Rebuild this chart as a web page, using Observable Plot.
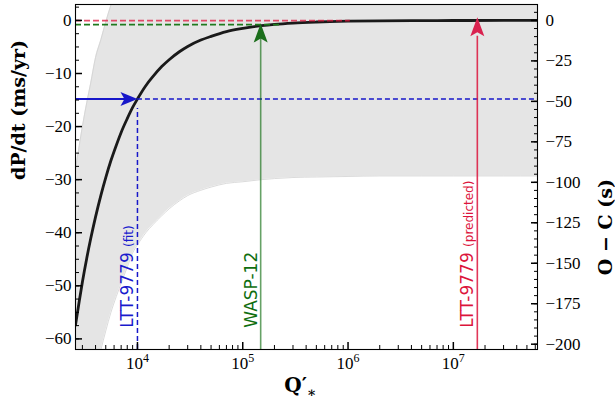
<!DOCTYPE html>
<html><head><meta charset="utf-8">
<script src="https://cdn.jsdelivr.net/npm/d3@7"></script>
<script src="https://cdn.jsdelivr.net/npm/@observablehq/plot@0.6"></script>
<style>body{margin:0;background:#fff} svg{display:block}</style>
</head><body><div id="chart"></div>
<script>
// ---- data ----
const qStar = [2580, 2800, 3000, 3300, 3600, 4000, 4500, 5000, 5600, 6300, 7000, 8000, 9000, 10000, 12000, 14000, 17000, 20000, 25000, 30000, 40000, 50000, 70000, 100000, 150000, 200000, 300000, 500000, 1e6, 2e6, 5e6, 1e7, 3e7, 6.3e7];
const dPdt = [-57.4, -52.9, -49.3, -44.8, -41.1, -37.0, -32.9, -29.6, -26.4, -23.5, -21.1, -18.5, -16.4, -14.8, -12.3, -10.6, -8.7, -7.4, -5.9, -4.9, -3.7, -3.0, -2.1, -1.5, -1.0, -0.74, -0.49, -0.30, -0.15, -0.07, -0.03, -0.015, -0.005, -0.002];
const bandHigh = [-28.1, -23.6, -20.0, -15.5, -11.8, -7.0, -3.6, -0.3, 2.9, 5.8, 8.2, 10.8, 12.9, 14.5, 17.0, 18.7, 20.6, 21.9, 23.4, 24.4, 25.6, 26.3, 27.2, 27.8, 28.3, 28.6, 28.8, 29.0, 29.2, 29.2, 29.3, 29.3, 29.3, 29.3];
const bandLow = [-86.0, -81.5, -78.0, -73.5, -69.8, -65.8, -62.0, -58.5, -55.0, -52.0, -49.5, -46.5, -43.8, -42.3, -40.0, -38.5, -36.8, -35.5, -34.0, -33.0, -32.0, -31.4, -30.7, -30.4, -30.0, -29.8, -29.6, -29.5, -29.4, -29.3, -29.3, -29.3, -29.3, -29.3];

const xDomain = [2580, 6.3e7];
const yDomain = [-62.0, 3.0];
const leftTicks = [0, -10, -20, -30, -40, -50, -60];
const leftMinor = d3.range(2.5, -62, -2.5);
const ocTicks = [0, -25, -50, -75, -100, -125, -150, -175, -200];
const ocMinor = d3.range(5, -201, -5);
const dPdtPerSecond = 0.305; // O−C (s) to dP/dt (ms/yr) axis ratio
const xMajor = [1e4, 1e5, 1e6, 1e7];
const xMinor = [3e3,4e3,5e3,6e3,7e3,8e3,9e3, 2e4,3e4,4e4,5e4,6e4,7e4,8e4,9e4, 2e5,3e5,4e5,5e5,6e5,7e5,8e5,9e5, 2e6,3e6,4e6,5e6,6e6,7e6,8e6,9e6, 2e7,3e7,4e7,5e7,6e7];

// annotations
const fitQ = 1e4, fitRate = -14.8;
const waspQ = 1.48e5, waspRate = -0.8, waspTip = -0.6, waspDashEnd = 2.36e5;
const predQ = 1.69e7, predRate = -0.05, predTip = 0.6, predDashEnd = 1.05e6;
const labelY = -57.9;
const labels = [
  {q: fitQ, text: "LTT-9779 (fit)", color: "#1a1acd"},
  {q: waspQ, text: "WASP-12", color: "#0f6e0f"},
  {q: predQ, text: "LTT-9779 (predicted)", color: "crimson"}
];

const curve = qStar.map((q, i) => ({q, v: dPdt[i], lo: bandLow[i], hi: bandHigh[i]}));

const headUp = {draw(c) { c.moveTo(0, 0); c.lineTo(7, 19); c.lineTo(0, 15); c.lineTo(-7, 19); c.closePath(); }};
const headRight = {draw(c) { c.moveTo(0, 0); c.lineTo(-17, -7); c.lineTo(-13, 0); c.lineTo(-17, 7); c.closePath(); }};

const blue = "#1717c9";
const fmt = v => v < 0 ? "\u2212" + (-v) : String(v);

const chart = Plot.plot({
  width: 615, height: 406,
  marginLeft: 75, marginRight: 78, marginTop: 4, marginBottom: 57,
  style: {fontFamily: "Liberation Serif", fontSize: "17px", background: "white", color: "black"},
  x: {type: "log", domain: xDomain, label: null},
  y: {domain: yDomain, label: null},
  marks: [
    Plot.areaY(curve, {x: "q", y1: "lo", y2: "hi", fill: "#e5e5e5", curve: "monotone-x", clip: true}),
    Plot.line(curve, {x: "q", y: "lo", stroke: "#d2d2d2", strokeWidth: 0.8, curve: "monotone-x", clip: true}),
    Plot.line(curve, {x: "q", y: "hi", stroke: "#d2d2d2", strokeWidth: 0.8, curve: "monotone-x", clip: true}),
    Plot.line(curve, {x: "q", y: "v", stroke: "#1a1a1a", strokeWidth: 2.8, curve: "monotone-x", clip: true}),
    // dashed reference lines
    Plot.ruleY([predRate], {x1: xDomain[0], x2: predDashEnd, stroke: "crimson", strokeOpacity: 0.75, strokeWidth: 1.8, strokeDasharray: "6,3"}),
    Plot.ruleY([waspRate], {x1: xDomain[0], x2: waspDashEnd, stroke: "#1e7a1e", strokeWidth: 1.8, strokeDasharray: "6,3"}),
    Plot.ruleY([fitRate], {x1: fitQ, x2: xDomain[1], stroke: blue, strokeWidth: 1.5, strokeDasharray: "5,3"}),
    Plot.ruleX([fitQ], {y1: yDomain[0], y2: -16.6, stroke: blue, strokeWidth: 1.5, strokeDasharray: "5,3"}),
    // arrows
    Plot.ruleY([fitRate], {x1: xDomain[0], x2: 9000, stroke: blue, strokeWidth: 2.2}),
    Plot.dot([{q: fitQ, v: fitRate}], {x: "q", y: "v", symbol: headRight, fill: blue, stroke: "none", r: 5}),
    Plot.ruleX([waspQ], {y1: yDomain[0], y2: -3, stroke: "darkgreen", strokeOpacity: 0.6, strokeWidth: 1.6}),
    Plot.dot([{q: waspQ, v: waspTip}], {x: "q", y: "v", symbol: headUp, fill: "#1b6e1b", stroke: "none", r: 5}),
    Plot.ruleX([predQ], {y1: yDomain[0], y2: -3, stroke: "crimson", strokeOpacity: 0.85, strokeWidth: 1.6}),
    Plot.dot([{q: predQ, v: predTip}], {x: "q", y: "v", symbol: headUp, fill: "#d9224f", stroke: "none", r: 5}),
    // rotated labels
    Plot.text(labels, {x: "q", y: () => labelY, text: "text", fill: "color", rotate: -90, textAnchor: "start", lineAnchor: "bottom", dx: -4, fontFamily: "DejaVu Sans", fontSize: 17}),
    // axis titles
    Plot.text(["dP/dt (ms/yr)"], {frameAnchor: "left", dx: -57, dy: 3, rotate: -90, fontFamily: "DejaVu Serif", fontWeight: "bold", fontSize: 19, lineAnchor: "middle"}),
    Plot.text(["O \u2212 C (s)"], {frameAnchor: "right", dx: 68, dy: 2, rotate: -90, fontFamily: "DejaVu Serif", fontWeight: "bold", fontSize: 19, lineAnchor: "middle"}),
    Plot.text(["Q\u2032_\u2217"], {frameAnchor: "bottom", dx: -6, dy: 36, fontFamily: "DejaVu Serif", fontWeight: "bold", fontSize: 20, lineAnchor: "middle"}),
    // axes
    Plot.axisY({anchor: "left", ticks: leftTicks, tickSize: -7, tickPadding: 11, strokeWidth: 1.5, tickFormat: fmt, label: null}),
    Plot.axisY({anchor: "left", ticks: leftMinor, tickSize: -4, tickFormat: () => "", label: null}),
    Plot.axisY({anchor: "right", ticks: ocTicks.map(v => v * dPdtPerSecond), tickSize: -7, tickPadding: 15, strokeWidth: 1.5, tickFormat: d => fmt(Math.round(d / dPdtPerSecond)), label: null}),
    Plot.axisY({anchor: "right", ticks: ocMinor.map(v => v * dPdtPerSecond), tickSize: -4, tickFormat: () => "", label: null}),
    Plot.axisX({anchor: "bottom", ticks: xMajor, tickSize: -7, tickPadding: 14, strokeWidth: 1.5, tickFormat: d => "10^" + Math.round(Math.log10(d)), label: null}),
    Plot.axisX({anchor: "bottom", ticks: xMinor, tickSize: -4, tickFormat: () => "", label: null}),
    Plot.frame({stroke: "black", strokeWidth: 1.1})
  ]
});

const NS = "http://www.w3.org/2000/svg";
function tspan(txt, attrs) {
  const t = document.createElementNS(NS, "tspan");
  for (const k in attrs) t.setAttribute(k, attrs[k]);
  t.textContent = txt;
  return t;
}
chart.querySelectorAll("text").forEach(t => {
  const s = t.textContent;
  let m = s.match(/^10\^(\d+)$/);
  if (m) { t.textContent = "10"; t.appendChild(tspan(m[1], {dy: "-7", "font-size": "12"})); return; }
  m = s.match(/^(LTT-9779) (\(.*\))$/);
  if (m) { t.textContent = m[1] + " "; t.appendChild(tspan(m[2], {"font-size": "12"})); return; }
  if (s === "Q\u2032_\u2217") { t.textContent = "Q\u2032"; t.appendChild(tspan("\u2217", {dy: "5", "font-size": "14"})); }
});
document.getElementById("chart").appendChild(chart);
</script>
</body></html>
